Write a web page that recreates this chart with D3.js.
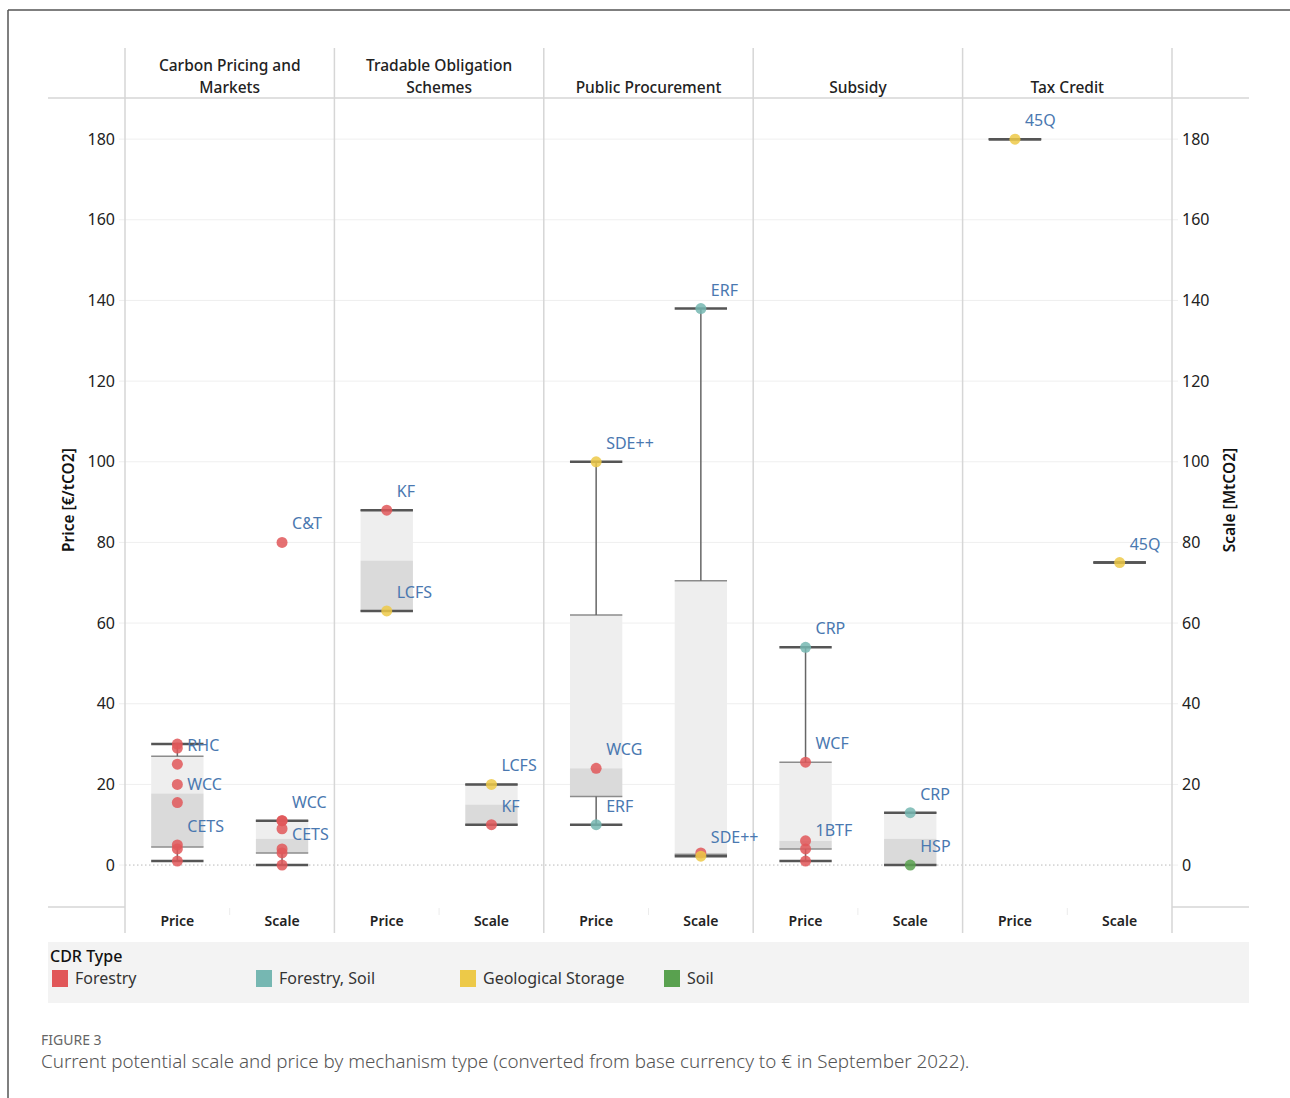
<!DOCTYPE html>
<html>
<head>
<meta charset="utf-8">
<script src="https://cdn.jsdelivr.net/npm/d3@7"></script>
<style>
  html, body { margin: 0; padding: 0; background: #fff; }
  svg { display: block; font-family: "Noto Sans", "Lato", sans-serif; }
</style>
</head>
<body>
<svg id="chart" width="1290" height="1098"></svg>
<script>
// Mechanism columns, measure sub-columns and CDR type colours
const mechanisms = ["Carbon Pricing and Markets", "Tradable Obligation Schemes", "Public Procurement", "Subsidy", "Tax Credit"];
const headerLines = [["Carbon Pricing and", "Markets"], ["Tradable Obligation", "Schemes"], ["Public Procurement"], ["Subsidy"], ["Tax Credit"]];
const measures = ["Price", "Scale"];
const cdrTypes = ["Forestry", "Forestry, Soil", "Geological Storage", "Soil"];
const cdrColors = ["#e15759", "#76b7b2", "#edc948", "#59a14f"];
const yTicks = [0, 20, 40, 60, 80, 100, 120, 140, 160, 180];

// One row per scheme observation: mechanism, measure, value, CDR type, label
const points = [
  { mech: "Carbon Pricing and Markets", measure: "Price", value: 30,   type: "Forestry", label: "" },
  { mech: "Carbon Pricing and Markets", measure: "Price", value: 29,   type: "Forestry", label: "" },
  { mech: "Carbon Pricing and Markets", measure: "Price", value: 25,   type: "Forestry", label: "RHC" },
  { mech: "Carbon Pricing and Markets", measure: "Price", value: 20,   type: "Forestry", label: "" },
  { mech: "Carbon Pricing and Markets", measure: "Price", value: 15.5, type: "Forestry", label: "WCC" },
  { mech: "Carbon Pricing and Markets", measure: "Price", value: 5,    type: "Forestry", label: "CETS" },
  { mech: "Carbon Pricing and Markets", measure: "Price", value: 4,    type: "Forestry", label: "" },
  { mech: "Carbon Pricing and Markets", measure: "Price", value: 1,    type: "Forestry", label: "" },
  { mech: "Carbon Pricing and Markets", measure: "Scale", value: 80,   type: "Forestry", label: "C&T", outlier: true },
  { mech: "Carbon Pricing and Markets", measure: "Scale", value: 11,   type: "Forestry", label: "WCC" },
  { mech: "Carbon Pricing and Markets", measure: "Scale", value: 11,   type: "Forestry", label: "" },
  { mech: "Carbon Pricing and Markets", measure: "Scale", value: 9,    type: "Forestry", label: "" },
  { mech: "Carbon Pricing and Markets", measure: "Scale", value: 4,    type: "Forestry", label: "" },
  { mech: "Carbon Pricing and Markets", measure: "Scale", value: 3,    type: "Forestry", label: "CETS" },
  { mech: "Carbon Pricing and Markets", measure: "Scale", value: 0,    type: "Forestry", label: "" },
  { mech: "Tradable Obligation Schemes", measure: "Price", value: 88,  type: "Forestry", label: "KF" },
  { mech: "Tradable Obligation Schemes", measure: "Price", value: 63,  type: "Geological Storage", label: "LCFS" },
  { mech: "Tradable Obligation Schemes", measure: "Scale", value: 20,  type: "Geological Storage", label: "LCFS" },
  { mech: "Tradable Obligation Schemes", measure: "Scale", value: 10,  type: "Forestry", label: "KF" },
  { mech: "Public Procurement", measure: "Price", value: 100, type: "Geological Storage", label: "SDE++" },
  { mech: "Public Procurement", measure: "Price", value: 24,  type: "Forestry", label: "WCG" },
  { mech: "Public Procurement", measure: "Price", value: 10,  type: "Forestry, Soil", label: "ERF" },
  { mech: "Public Procurement", measure: "Scale", value: 138, type: "Forestry, Soil", label: "ERF" },
  { mech: "Public Procurement", measure: "Scale", value: 3,   type: "Forestry", label: "" },
  { mech: "Public Procurement", measure: "Scale", value: 2.2, type: "Geological Storage", label: "SDE++" },
  { mech: "Subsidy", measure: "Price", value: 54,   type: "Forestry, Soil", label: "CRP" },
  { mech: "Subsidy", measure: "Price", value: 25.5, type: "Forestry", label: "WCF" },
  { mech: "Subsidy", measure: "Price", value: 6,    type: "Forestry", label: "" },
  { mech: "Subsidy", measure: "Price", value: 4,    type: "Forestry", label: "1BTF" },
  { mech: "Subsidy", measure: "Price", value: 1,    type: "Forestry", label: "" },
  { mech: "Subsidy", measure: "Scale", value: 13,   type: "Forestry, Soil", label: "CRP" },
  { mech: "Subsidy", measure: "Scale", value: 0,    type: "Soil", label: "HSP" },
  { mech: "Tax Credit", measure: "Price", value: 180, type: "Geological Storage", label: "45Q" },
  { mech: "Tax Credit", measure: "Scale", value: 75,  type: "Geological Storage", label: "45Q" }
];

const svg = d3.select("#chart");
const W = 1290, H = 1098;

// layout frame
const L = 48, R = 1249, panelL = 125, panelR = 1172;
const headTop = 48, plotTop = 98, plotBot = 907, footBot = 933;

const color = d3.scaleOrdinal().domain(cdrTypes).range(cdrColors);
const xPanel = d3.scaleBand().domain(mechanisms).range([panelL, panelR]);
const xMeasure = d3.scaleBand().domain(measures).range([0, xPanel.bandwidth()]);
const y = d3.scaleLinear().domain([-10.4, 190.2]).range([plotBot, plotTop]);
const boxW = xMeasure.bandwidth() * 0.5;
const cx = (m, s) => xPanel(m) + xMeasure(s) + xMeasure.bandwidth() / 2;

// outer figure frame (top and left rule)
svg.append("line").attr("x1", 8).attr("x2", W).attr("y1", 10).attr("y2", 10).attr("stroke", "#555").attr("stroke-width", 1.5);
svg.append("line").attr("x1", 8).attr("x2", 8).attr("y1", 10).attr("y2", H).attr("stroke", "#555").attr("stroke-width", 1.5);

// gridlines
const grid = svg.append("g");
grid.selectAll("line.grid").data(yTicks.filter(t => t !== 0)).join("line")
  .attr("class", "grid")
  .attr("x1", panelL - 6).attr("x2", panelR + 6)
  .attr("y1", d => y(d)).attr("y2", d => y(d))
  .attr("stroke", "#efefef").attr("stroke-width", 1);
svg.append("line")
  .attr("x1", panelL).attr("x2", panelR).attr("y1", y(0)).attr("y2", y(0))
  .attr("stroke", "#b8b8b8").attr("stroke-width", 1).attr("stroke-dasharray", "1.5,2.5");
grid.selectAll("line.tk0").data([0]).join("line")
  .attr("x1", panelL - 6).attr("x2", panelL).attr("y1", y(0)).attr("y2", y(0)).attr("stroke", "#efefef");
grid.selectAll("line.tk1").data([0]).join("line")
  .attr("x1", panelR).attr("x2", panelR + 6).attr("y1", y(0)).attr("y2", y(0)).attr("stroke", "#efefef");

// header and footer rules
svg.append("line").attr("x1", L).attr("x2", R).attr("y1", plotTop).attr("y2", plotTop).attr("stroke", "#d6d6d6").attr("stroke-width", 1.5);
svg.append("line").attr("x1", L).attr("x2", panelL).attr("y1", plotBot).attr("y2", plotBot).attr("stroke", "#d6d6d6").attr("stroke-width", 1.5);
svg.append("line").attr("x1", panelR).attr("x2", R).attr("y1", plotBot).attr("y2", plotBot).attr("stroke", "#d6d6d6").attr("stroke-width", 1.5);

// panel dividers
const dividers = mechanisms.map(m => xPanel(m)).concat([panelR]);
svg.selectAll("line.div").data(dividers).join("line")
  .attr("class", "div")
  .attr("x1", d => d).attr("x2", d => d).attr("y1", headTop).attr("y2", footBot)
  .attr("stroke", "#d6d6d6").attr("stroke-width", 1.5);
svg.selectAll("line.subdiv").data(mechanisms).join("line")
  .attr("class", "subdiv")
  .attr("x1", d => xPanel(d) + xMeasure("Scale")).attr("x2", d => xPanel(d) + xMeasure("Scale"))
  .attr("y1", plotBot + 1).attr("y2", plotBot + 8)
  .attr("stroke", "#ececec").attr("stroke-width", 1);

// column headers
const heads = svg.selectAll("text.head").data(mechanisms).join("text")
  .attr("class", "head")
  .attr("x", d => xPanel(d) + xPanel.bandwidth() / 2)
  .attr("text-anchor", "middle")
  .attr("font-size", 15.5).attr("font-weight", 500).attr("fill", "#222");
heads.each(function (d, i) {
  const lines = headerLines[i];
  const t = d3.select(this);
  lines.forEach((ln, j) => {
    t.append("tspan").attr("x", xPanel(d) + xPanel.bandwidth() / 2)
      .attr("y", 93 - (lines.length - 1 - j) * 22).text(ln);
  });
});

// bottom measure labels
mechanisms.forEach(m => {
  measures.forEach(s => {
    svg.append("text").attr("x", cx(m, s)).attr("y", 926)
      .attr("text-anchor", "middle").attr("font-size", 14).attr("font-weight", 600)
      .attr("fill", "#222").text(s);
  });
});

// y axes (left: price, right: scale)
const axisL = d3.axisLeft(y).tickValues(yTicks).tickSize(0).tickPadding(10);
const axisR = d3.axisRight(y).tickValues(yTicks).tickSize(0).tickPadding(10);
const gL = svg.append("g").attr("transform", `translate(${panelL},0)`).call(axisL);
const gR = svg.append("g").attr("transform", `translate(${panelR},0)`).call(axisR);
[gL, gR].forEach(g => {
  g.select(".domain").remove();
  g.selectAll("text").attr("font-size", 16).attr("fill", "#222").attr("font-family", "Noto Sans, sans-serif");
});

svg.append("text").attr("transform", `translate(74,${y(90.5)}) rotate(-90)`)
  .attr("text-anchor", "middle").attr("font-size", 15.5).attr("font-weight", 600).attr("fill", "#111")
  .text("Price [€/tCO2]");
svg.append("text").attr("transform", `translate(1235,${y(90.5)}) rotate(-90)`)
  .attr("text-anchor", "middle").attr("font-size", 15.5).attr("font-weight", 600).attr("fill", "#111")
  .text("Scale [MtCO2]");

// box statistics: median split with the median kept in both halves
function boxStats(vals) {
  const v = vals.slice().sort(d3.ascending);
  const n = v.length;
  const med = d3.median(v);
  const half = Math.ceil(n / 2);
  const lower = v.slice(0, half), upper = v.slice(n - half);
  const q1 = d3.median(lower), q3 = d3.median(upper);
  const iqr = q3 - q1;
  const inside = v.filter(d => d >= q1 - 1.5 * iqr && d <= q3 + 1.5 * iqr);
  return { q1, med, q3, lo: d3.min(inside), hi: d3.max(inside) };
}

const groups = [];
mechanisms.forEach(m => measures.forEach(s => {
  const vals = points.filter(p => p.mech === m && p.measure === s && !p.outlier).map(p => p.value);
  if (vals.length) groups.push({ m, s, ...boxStats(vals) });
}));

const boxes = svg.append("g");
groups.forEach(g => {
  const x0 = cx(g.m, g.s) - boxW / 2;
  // upper half of box
  boxes.append("rect").attr("x", x0).attr("width", boxW)
    .attr("y", y(g.q3)).attr("height", Math.max(0, y(g.med) - y(g.q3))).attr("fill", "#eeeeee");
  // lower half of box
  boxes.append("rect").attr("x", x0).attr("width", boxW)
    .attr("y", y(g.med)).attr("height", Math.max(0, y(g.q1) - y(g.med))).attr("fill", "#dadada");
  // box edges
  [g.q1, g.q3].forEach(v => boxes.append("line")
    .attr("x1", x0).attr("x2", x0 + boxW).attr("y1", y(v)).attr("y2", y(v))
    .attr("stroke", "#8c8c8c").attr("stroke-width", 1.5));
  // whiskers
  boxes.append("line").attr("x1", x0 + boxW / 2).attr("x2", x0 + boxW / 2)
    .attr("y1", y(g.hi)).attr("y2", y(g.q3)).attr("stroke", "#666").attr("stroke-width", 1.5);
  boxes.append("line").attr("x1", x0 + boxW / 2).attr("x2", x0 + boxW / 2)
    .attr("y1", y(g.q1)).attr("y2", y(g.lo)).attr("stroke", "#666").attr("stroke-width", 1.5);
  // whisker caps
  [g.lo, g.hi].forEach(v => boxes.append("line")
    .attr("x1", x0).attr("x2", x0 + boxW).attr("y1", y(v)).attr("y2", y(v))
    .attr("stroke", "#555").attr("stroke-width", 2.5));
});

// observation dots
svg.append("g").selectAll("circle").data(points).join("circle")
  .attr("cx", d => cx(d.mech, d.measure))
  .attr("cy", d => y(d.value))
  .attr("r", 5.5)
  .attr("fill", d => color(d.type))
  .attr("fill-opacity", 0.85);

// scheme labels
svg.append("g").selectAll("text").data(points.filter(p => p.label)).join("text")
  .attr("x", d => cx(d.mech, d.measure) + 10)
  .attr("y", d => y(d.value) - 13)
  .attr("font-size", 16).attr("fill", "#4a78b0")
  .text(d => d.label);

// legend
svg.append("rect").attr("x", L).attr("y", 942).attr("width", R - L).attr("height", 61).attr("fill", "#f3f3f3");
svg.append("text").attr("x", 50).attr("y", 962).attr("font-size", 16).attr("font-weight", 500).attr("fill", "#111").text("CDR Type");
const leg = svg.append("g").selectAll("g").data(cdrTypes).join("g")
  .attr("transform", (d, i) => `translate(${52 + i * 204},970)`);
leg.append("rect").attr("width", 16).attr("height", 17).attr("fill", d => color(d));
leg.append("text").attr("x", 23).attr("y", 14).attr("font-size", 16).attr("fill", "#333").text(d => d);

// caption
svg.append("text").attr("x", 41).attr("y", 1045).attr("font-size", 14).attr("fill", "#666").text("FIGURE 3");
svg.append("text").attr("x", 41).attr("y", 1068).attr("font-size", 18.8).attr("fill", "#555").attr("font-weight", 300)
  .text("Current potential scale and price by mechanism type (converted from base currency to € in September 2022).");
</script>
</body>
</html>
